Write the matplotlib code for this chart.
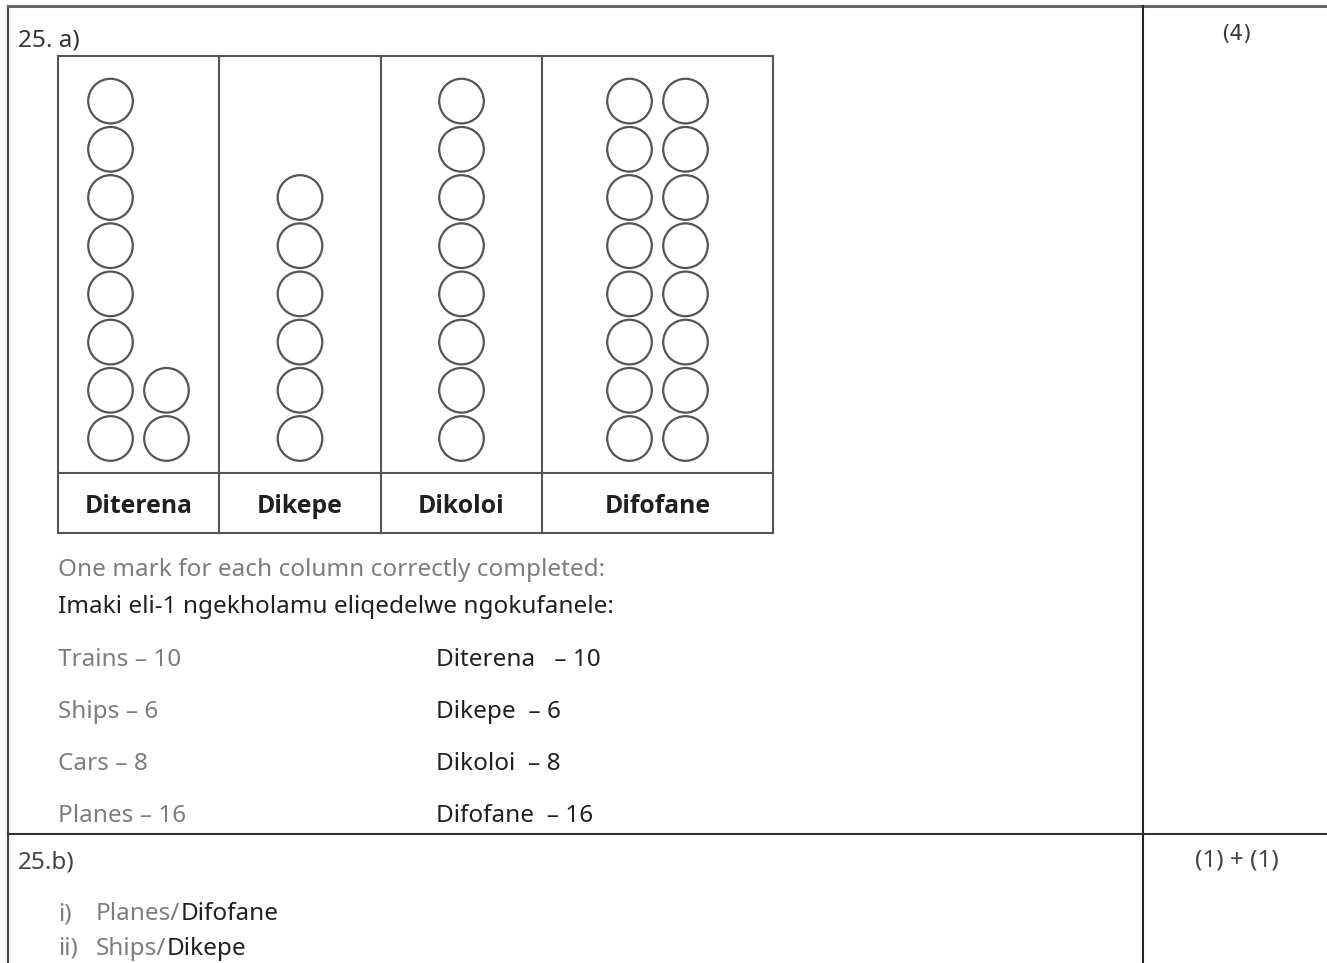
import matplotlib
matplotlib.use("Agg")
import matplotlib.pyplot as plt
from matplotlib.patches import Circle

# ---- data ----
categories = ["Diterena", "Dikepe", "Dikoloi", "Difofane"]
counts = [10, 6, 8, 16]
english = ["Trains", "Ships", "Cars", "Planes"]
question_a = "25. a)"
question_b = "25.b)"
mark_a = "(4)"
mark_b = "(1) + (1)"
note_en = "One mark for each column correctly completed:"
note_xh = "Imaki eli-1 ngekholamu eliqedelwe ngokufanele:"
answers_b = [("i)", "Planes/", "Difofane"), ("ii)", "Ships/", "Dikepe")]
per_column = 8

W, H = 1327, 963
fig = plt.figure(figsize=(W / 100, H / 100), dpi=100)
ax = fig.add_axes([0, 0, 1, 1])
ax.set_xlim(0, W)
ax.set_ylim(H, 0)
ax.axis("off")

FONT = ["Noto Sans", "DejaVu Sans"]
BOLD = ["Open Sans", "Lato", "DejaVu Sans"]
DARK = "#231f20"
GRAY = "#7d7d7d"
LINE = "#555555"
FS = 17.5

# outer frame
ax.plot([8, 8], [6, H], color="#444444", lw=1.6)
ax.plot([8, W], [6, 6], color="#666666", lw=2.2)
ax.plot([1143, 1143], [6, H], color="#222222", lw=1.5)
ax.plot([8, W], [834, 834], color="#333333", lw=1.5)

# table
cell_edges = [58, 219, 381, 542, 773]
t_top, t_mid, t_bot = 56, 473, 533
for x in cell_edges:
    ax.plot([x, x], [t_top, t_bot], color=LINE, lw=1.5)
for y in [t_top, t_mid, t_bot]:
    ax.plot([cell_edges[0], cell_edges[-1]], [y, y], color=LINE, lw=1.5)

row_bottom, row_step, col_step, r = 438.5, 48.2, 56, 22.3
for i, (cat, n) in enumerate(zip(categories, counts)):
    cx = (cell_edges[i] + cell_edges[i + 1]) / 2
    ncols = (n + per_column - 1) // per_column
    xs = [cx + (k - (ncols - 1) / 2) * col_step for k in range(ncols)]
    for k in range(ncols):
        m = min(per_column, n - k * per_column)
        for j in range(m):
            ax.add_patch(Circle((xs[k], row_bottom - j * row_step), r,
                                fill=False, ec=LINE, lw=1.6))
    ax.text(cx, 513, cat, ha="center", va="baseline", fontsize=17.8,
            fontweight="bold", color=DARK, family=BOLD)

# headers
ax.text(18, 46, question_a, ha="left", va="baseline", fontsize=FS, color="#333333", family=FONT)
ax.text(1236, 40, mark_a, ha="center", va="baseline", fontsize=15.5, color="#333333", family=["DejaVu Sans"])
ax.text(18, 868, question_b, ha="left", va="baseline", fontsize=FS, color="#444444", family=FONT)
ax.text(1237, 866, mark_b, ha="center", va="baseline", fontsize=FS, color="#444444", family=FONT)

# notes
ax.text(58, 576, note_en, ha="left", va="baseline", fontsize=FS, color=GRAY, family=FONT)
ax.text(58, 613, note_xh, ha="left", va="baseline", fontsize=FS, color=DARK, family=FONT)

rows_y = [666, 718, 770, 822]
for i, (y, en, cat, n) in enumerate(zip(rows_y, english, categories, counts)):
    gap = "   " if i == 0 else "  "
    ax.text(58, y, f"{en} \u2013 {n}", ha="left", va="baseline", fontsize=FS, color=GRAY, family=FONT)
    ax.text(436, y, f"{cat}{gap}\u2013 {n}", ha="left", va="baseline", fontsize=FS, color=DARK, family=FONT)

# part b answers
for y, (num, en, xh) in zip([920, 955], answers_b):
    ax.text(58, y, num, ha="left", va="baseline", fontsize=FS, color=GRAY, family=FONT)
    t = ax.text(96, y, en, ha="left", va="baseline", fontsize=FS, color=GRAY, family=FONT)
    fig.canvas.draw()
    bb = t.get_window_extent()
    x_end = ax.transData.inverted().transform((bb.x1, bb.y0))[0]
    ax.text(x_end, y, xh, ha="left", va="baseline", fontsize=FS, color=DARK, family=FONT)

fig.savefig("out.png", dpi=100)
